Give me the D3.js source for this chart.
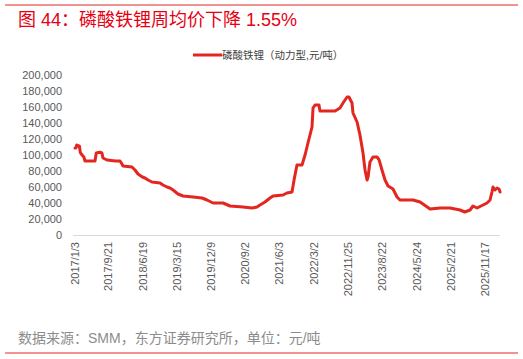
<!DOCTYPE html>
<html><head><meta charset="utf-8">
<script src="https://cdn.jsdelivr.net/npm/d3@7"></script>
<style>
body{margin:0;background:#fff;}
svg{display:block;font-family:"Liberation Sans","Noto Sans CJK SC",sans-serif;}
</style></head>
<body><svg id="c" width="523" height="359"></svg>
<script>
const title = "图 44：磷酸铁锂周均价下降 1.55%";
const seriesName = "磷酸铁锂（动力型,元/吨）";
const source = "数据来源：SMM，东方证券研究所，单位：元/吨";
const xTickLabels = ["2017/1/3","2017/9/21","2018/6/19","2019/3/15","2019/12/9","2020/9/2","2021/6/3","2022/3/2","2022/11/25","2023/8/22","2024/5/24","2025/2/21","2025/11/17"];
const yTicks = [0,20000,40000,60000,80000,100000,120000,140000,160000,180000,200000];
const dates = ["2017/1/3","2017/1/10","2017/1/17","2017/2/7","2017/2/14","2017/2/28","2017/3/14","2017/3/23","2017/6/10","2017/6/20","2017/7/18","2017/8/4","2017/8/12","2017/9/13","2017/11/20","2017/12/25","2018/1/9","2018/1/17","2018/3/29","2018/4/22","2018/5/16","2018/6/19","2018/7/10","2018/8/3","2018/9/3","2018/11/6","2018/11/29","2018/12/31","2019/1/24","2019/2/17","2019/3/28","2019/5/7","2019/7/25","2019/10/4","2019/11/12","2019/12/30","2020/3/18","2020/5/12","2020/8/23","2020/11/2","2020/12/11","2021/1/4","2021/2/12","2021/3/24","2021/4/17","2021/7/5","2021/8/5","2021/9/14","2021/9/30","2021/10/23","2021/12/2","2021/12/26","2022/1/18","2022/2/19","2022/2/27","2022/3/15","2022/4/15","2022/4/23","2022/8/20","2022/9/28","2022/10/22","2022/11/23","2022/12/8","2023/1/1","2023/1/9","2023/2/10","2023/3/5","2023/3/29","2023/4/14","2023/4/30","2023/5/8","2023/5/23","2023/6/16","2023/7/18","2023/8/3","2023/8/26","2023/9/19","2023/10/13","2023/11/21","2023/12/23","2024/1/15","2024/4/27","2024/6/22","2024/9/9","2024/11/27","2025/2/14","2025/5/4","2025/6/10","2025/7/22","2025/8/14","2025/9/15","2025/12/3","2025/12/27","2026/1/11","2026/1/19","2026/2/4","2026/2/20","2026/3/8","2026/3/16"];
const prices = [108750,108750,112500,111000,103000,100000,97500,92500,92500,102500,103500,102500,96250,93750,92500,92500,88750,86250,85000,81250,76250,72500,71250,68750,66250,65000,62500,60000,58750,56250,51250,48750,47500,46250,43750,40000,40000,36250,35000,33750,35000,37500,41250,46250,48750,50000,52500,53750,68750,87500,87500,100000,115000,135000,158750,162500,162500,155000,155000,158750,165000,172500,172500,165000,152500,141250,125000,102500,81250,68750,72500,91250,97500,97500,94000,81250,68750,61250,57500,47500,43750,43750,41250,32500,33750,33750,31250,28750,31250,36250,33750,40000,43750,53750,60000,56250,58750,57500,53750];

const parse = d3.timeParse("%Y/%m/%d");
const data = dates.map((d,i)=>({date:parse(d), value:prices[i]}));
const svg = d3.select("#c");
const red = "#e3261f";

// frame lines
svg.append("line").attr("x1",5).attr("x2",518).attr("y1",5).attr("y2",5).attr("stroke","#e3261f").attr("stroke-width",1);
svg.append("line").attr("x1",5).attr("x2",518).attr("y1",353).attr("y2",353).attr("stroke","#e3261f").attr("stroke-width",1);

svg.append("text").attr("x",18).attr("y",26).attr("fill","#e60012").attr("font-size",18)
  .attr("font-family","\"Liberation Sans\",\"Noto Sans CJK SC\",sans-serif").text(title);

const x = d3.scaleTime().domain([parse(xTickLabels[0]), parse(xTickLabels[xTickLabels.length-1])]).range([75,485]);
const y = d3.scaleLinear().domain([0,200000]).range([235,75]);

// y axis labels
const yAxis = d3.axisLeft(y).tickValues(yTicks).tickFormat(d3.format(",")).tickSize(0).tickPadding(0);
const gy = svg.append("g").attr("transform","translate(62,0)").call(yAxis);
gy.select(".domain").remove();
gy.selectAll("text").attr("fill","#595959").attr("font-size",11).attr("font-family","\"Liberation Sans\",sans-serif");

// x axis
const xAxis = d3.axisBottom(x).tickValues(xTickLabels.map(parse)).tickFormat(d3.timeFormat("%Y/%-m/%-d")).tickSize(0).tickPadding(0);
const gx = svg.append("g").attr("transform","translate(0,235)").call(xAxis);
gx.select(".domain").remove();
gx.selectAll("text").attr("fill","#595959").attr("font-size",11).attr("font-family","\"Liberation Sans\",sans-serif")
  .attr("text-anchor","end").attr("dy","0.35em").attr("transform","translate(0,7) rotate(-90)").attr("y",0).attr("x",0);
svg.append("line").attr("x1",73).attr("x2",500).attr("y1",235.5).attr("y2",235.5).attr("stroke","#d9d9d9").attr("stroke-width",1);

// line
const line = d3.line().x(d=>x(d.date)).y(d=>y(d.value));
svg.append("path").datum(data).attr("d",line).attr("fill","none").attr("stroke",red).attr("stroke-width",3).attr("stroke-linejoin","round").attr("stroke-linecap","round");

// legend
svg.append("line").attr("x1",193).attr("x2",222).attr("y1",55).attr("y2",55).attr("stroke",red).attr("stroke-width",3);
svg.append("text").attr("x",222).attr("y",59).attr("font-size",10.5).attr("fill","#404040").text(seriesName);

// source
svg.append("text").attr("x",18).attr("y",343).attr("font-size",14).attr("fill","#8c8c8c").text(source);
</script></body></html>
